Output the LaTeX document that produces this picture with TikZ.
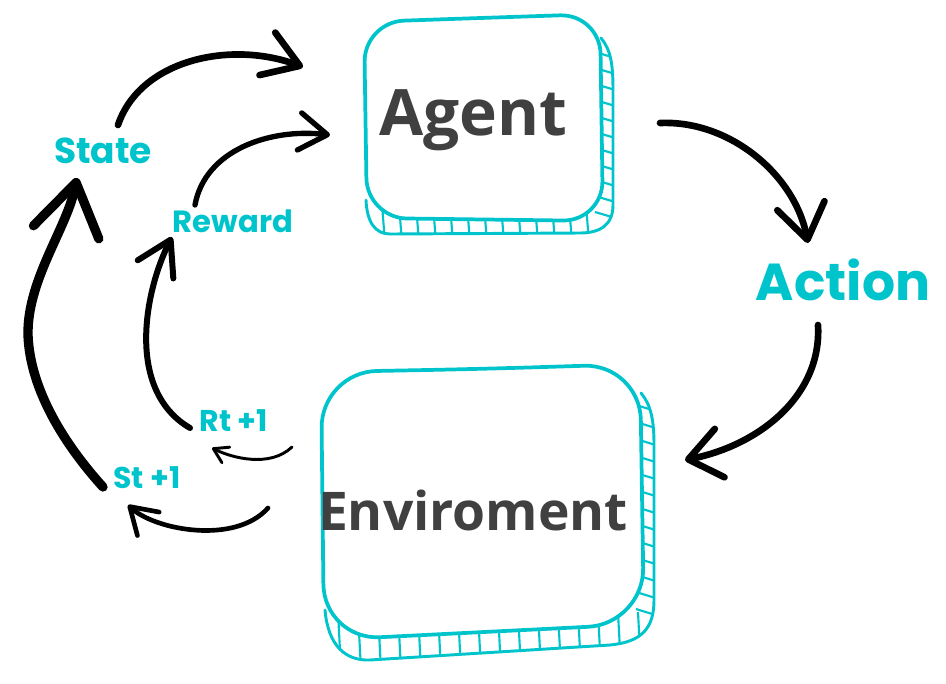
\documentclass[tikz,border=0pt]{standalone}
\usepackage{fontspec}
\newfontfamily\labfont{Poppins}
\newfontfamily\boxfont{Open Sans}
\usetikzlibrary{arrows.meta}
\definecolor{teal1}{HTML}{00C4CC}
\begin{document}
\begin{tikzpicture}[x=0.75pt,y=-0.75pt,
  lab/.style={text=teal1,anchor=base,inner sep=0pt},
  boxtxt/.style={text=black!75,anchor=base,inner sep=0pt},
  frontedge/.style={draw=teal1,line width=2.8pt,fill=white,line join=round},
  backedge/.style={draw=teal1,line width=2.2pt,line join=round,line cap=round},
  hatch/.style={draw=teal1,line width=1.6pt},
  arr/.style={draw=black,line cap=round}
]
\useasboundingbox (0,0) rectangle (946,683);

% ---------- Agent box ----------
\def\agentback{(601,38) .. controls (611,50) and (613,65) .. (613,90) -- (613,205) .. controls (613,225) and (600,233) .. (580,233) -- (390,234) .. controls (375,234) and (367,222) .. (366,200)}
\begin{scope}
  \clip \agentback -- (480,120) -- cycle;
  \foreach \y in {52,68,...,214} \draw[hatch] (595,\y) -- (622,\y+8);
  \foreach \x in {382,399,...,596} \draw[hatch] (\x,205) -- (\x+3,242);
\end{scope}
\draw[backedge] \agentback;
\draw[frontedge,rounded corners=30] (480,18) -- (600,14) -- (603,221) -- (367,218) -- (364,22) -- cycle;
\node[boxtxt,font=\boxfont\bfseries\fontsize{48}{50}\selectfont] (agent) at (473,135) {Agent};

% ---------- Environment box ----------
\def\envback{(641,393) .. controls (651,405) and (654,420) .. (654,445) -- (654,600) .. controls (654,630) and (640,642) .. (610,645) -- (370,660) .. controls (345,661) and (328,645) .. (325,610)}
\begin{scope}
  \clip \envback -- (480,500) -- cycle;
  \foreach \y in {405,422,...,625} \draw[hatch] (636,\y) -- (662,\y+8);
  \foreach \x in {338,358,...,640} \draw[hatch] (\x,612) -- (\x+3,670);
\end{scope}
\draw[backedge] \envback;
\draw[frontedge,rounded corners=42] (480,369) -- (640,364) -- (644,624) -- (324,640) -- (321,372) -- cycle;
\node[boxtxt,font=\boxfont\bfseries\fontsize{40}{42}\selectfont] (env) at (473,530) {Enviroment};

% ---------- labels ----------
\node[lab,font=\labfont\bfseries\fontsize{27}{29}\selectfont] (state) at (103,163) {State};
\node[lab,font=\labfont\bfseries\fontsize{23}{25}\selectfont] (reward) at (233,232) {Reward};
\node[lab,font=\labfont\bfseries\fontsize{39}{41}\selectfont] (action) at (843,300) {Action};
\node[lab,font=\labfont\bfseries\fontsize{22.5}{24}\selectfont] (rt) at (234,431) {Rt +1};
\node[lab,font=\labfont\bfseries\fontsize{22.5}{24}\selectfont] (st) at (147,488) {St +1};

% ---------- arrow end points ----------
\coordinate (s1) at (118,125); \coordinate (e1) at (303,67);
\coordinate (s2) at (195,205); \coordinate (e2) at (330,135);
\coordinate (s3) at (660,123); \coordinate (e3) at (808,243);
\coordinate (s4) at (818,325); \coordinate (e4) at (685,460);
\coordinate (s5) at (103,487); \coordinate (m5) at (28,335); \coordinate (e5) at (77,178);
\coordinate (s6) at (190,428); \coordinate (e6) at (172,237);
\coordinate (s7) at (292,447); \coordinate (e7) at (212,448);
\coordinate (s8) at (268,508); \coordinate (e8) at (128,505);

% ---------- arrows ----------
\draw[arr,line width=5pt,-{Straight Barb[length=26pt,width=34pt,round]}]
  (s1) .. controls (140,60) and (230,40) .. (e1);
\draw[arr,line width=4pt,-{Straight Barb[length=21pt,width=28pt,round]}]
  (s2) .. controls (205,150) and (270,128) .. (e2);
\draw[arr,line width=5pt,-{Straight Barb[length=26pt,width=36pt,round]}]
  (s3) .. controls (730,120) and (795,175) .. (e3);
\draw[arr,line width=5pt,-{Straight Barb[length=24pt,width=37pt,round]}]
  (s4) .. controls (822,395) and (760,445) .. (e4);
\draw[arr,line width=7pt,-{Straight Barb[length=38pt,width=50pt,round]}]
  (s5) .. controls (65,445) and (30,390) .. (m5) .. controls (27,280) and (67,228) .. (e5);
\draw[arr,line width=4.5pt,-{Straight Barb[length=25pt,width=30pt,round]}]
  (s6) .. controls (125,390) and (145,290) .. (e6);
\draw[arr,line width=2.2pt,-{Straight Barb[length=10.5pt,width=13pt,round]}]
  (s7) .. controls (270,468) and (232,458) .. (e7);
\draw[arr,line width=3.5pt,-{Straight Barb[length=19pt,width=24pt,round]}]
  (s8) .. controls (235,545) and (155,530) .. (e8);
\end{tikzpicture}
\end{document}
